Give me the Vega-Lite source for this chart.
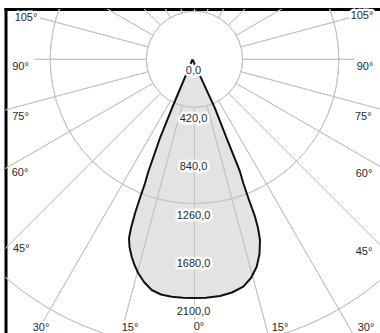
{
  "$schema": "https://vega.github.io/schema/vega-lite/v6.json",
  "width": 374.5,
  "height": 324,
  "autosize": {"type": "none"},
  "padding": {"left": 5.5, "top": 9, "right": 0, "bottom": 0},
  "background": "white",
  "view": {"stroke": null},
  "config": {
    "axis": {"domain": true, "domainColor": "#000000", "domainWidth": 3, "domainCap": "square", "ticks": false, "labels": false, "grid": false},
    "text": {"font": "Liberation Sans", "fontSize": 11, "color": "#2a2a2a"}
  },
  "datasets": {
    "curve": [
      {"i": 0, "x": -17.5, "y": 0},
      {"i": 1, "x": -185.1, "y": -399.0},
      {"i": 2, "x": -301.2, "y": -687.2},
      {"i": 3, "x": -403.4, "y": -981.5},
      {"i": 4, "x": -432.2, "y": -1082.7},
      {"i": 5, "x": -475.9, "y": -1211.1},
      {"i": 6, "x": -519.5, "y": -1344.7},
      {"i": 7, "x": -554.5, "y": -1473.1},
      {"i": 8, "x": -571.9, "y": -1563.0},
      {"i": 9, "x": -567.6, "y": -1638.9},
      {"i": 10, "x": -548.4, "y": -1723.7},
      {"i": 11, "x": -523.9, "y": -1796.1},
      {"i": 12, "x": -490.7, "y": -1868.6},
      {"i": 13, "x": -441.0, "y": -1944.6},
      {"i": 14, "x": -373.7, "y": -2014.4},
      {"i": 15, "x": -292.5, "y": -2053.7},
      {"i": 16, "x": -199.1, "y": -2072.9},
      {"i": 17, "x": -100.4, "y": -2082.5},
      {"i": 18, "x": 0, "y": -2084.3},
      {"i": 19, "x": 100.4, "y": -2082.5},
      {"i": 20, "x": 222.7, "y": -2066.8},
      {"i": 21, "x": 327.4, "y": -2036.3},
      {"i": 22, "x": 426.1, "y": -1985.6},
      {"i": 23, "x": 493.3, "y": -1909.6},
      {"i": 24, "x": 543.1, "y": -1811.0},
      {"i": 25, "x": 567.6, "y": -1700.1},
      {"i": 26, "x": 571.9, "y": -1577.8},
      {"i": 27, "x": 554.5, "y": -1473.1},
      {"i": 28, "x": 528.3, "y": -1374.4},
      {"i": 29, "x": 475.9, "y": -1228.6},
      {"i": 30, "x": 426.1, "y": -1082.7},
      {"i": 31, "x": 397.3, "y": -981.5},
      {"i": 32, "x": 281.2, "y": -689.8},
      {"i": 33, "x": 179.0, "y": -427.9},
      {"i": 34, "x": -17.5, "y": 0}
    ],
    "rings": [
      {"r": 420}, {"r": 840}, {"r": 1260}, {"r": 1680}, {"r": 2100}, {"r": 2520}, {"r": 2940}
    ],
    "spokes": [
      {"a": 0, "ro": 4000}, {"a": 15, "ro": 4000}, {"a": 30, "ro": 4000}, {"a": 45, "ro": 4000},
      {"a": 60, "ro": 4000}, {"a": 75, "ro": 4000}, {"a": 90, "ro": 1397}, {"a": 105, "ro": 1397},
      {"a": 120, "ro": 4000}, {"a": 135, "ro": 4000}, {"a": 150, "ro": 4000}, {"a": 165, "ro": 4000},
      {"a": 180, "ro": 4000},
      {"a": -15, "ro": 4000}, {"a": -30, "ro": 4000}, {"a": -45, "ro": 4000},
      {"a": -60, "ro": 4000}, {"a": -75, "ro": 4000}, {"a": -90, "ro": 1397}, {"a": -105, "ro": 1397},
      {"a": -120, "ro": 4000}, {"a": -135, "ro": 4000}, {"a": -150, "ro": 4000}, {"a": -165, "ro": 4000}
    ],
    "vlabels": [
      {"t": "0,0", "y": 0},
      {"t": "420,0", "y": -420},
      {"t": "840,0", "y": -840},
      {"t": "1260,0", "y": -1260},
      {"t": "1680,0", "y": -1680},
      {"t": "2100,0", "y": -2100}
    ],
    "alabels": [
      {"t": "105°", "x": -1471.3, "y": 358.0},
      {"t": "90°", "x": -1519.3, "y": -62.9},
      {"t": "75°", "x": -1519.3, "y": -501.2},
      {"t": "60°", "x": -1523.7, "y": -992.8},
      {"t": "45°", "x": -1512.3, "y": -1656.4},
      {"t": "30°", "x": -1340.3, "y": -2346.2},
      {"t": "15°", "x": -563.2, "y": -2346.2},
      {"t": "0°", "x": 39.3, "y": -2337.5},
      {"t": "15°", "x": 746.6, "y": -2346.2},
      {"t": "30°", "x": 1497.5, "y": -2346.2},
      {"t": "45°", "x": 1480.0, "y": -1682.6},
      {"t": "60°", "x": 1480.0, "y": -1001.5},
      {"t": "75°", "x": 1473.9, "y": -501.2},
      {"t": "90°", "x": 1488.8, "y": -64.6},
      {"t": "105°", "x": 1462.6, "y": 378.1}
    ]
  },
  "layer": [
    {
      "data": {"name": "curve"},
      "mark": {"type": "line", "fill": "#e3e3e3", "stroke": null, "clip": true},
      "encoding": {
        "x": {"field": "x", "type": "quantitative", "scale": {"domain": [-1650.3, 1619.7], "nice": false, "zero": false}, "axis": {"orient": "top", "title": null}},
        "y": {"field": "y", "type": "quantitative", "scale": {"domain": [-2389.9, 439.2], "nice": false, "zero": false}, "axis": {"orient": "left", "title": null}},
        "order": {"field": "i", "type": "quantitative"}
      }
    },
    {
      "data": {"name": "rings"},
      "mark": {"type": "arc", "theta": 0, "theta2": 6.283185307179586, "filled": false, "stroke": "#c4c4c4", "strokeWidth": 1, "clip": true},
      "encoding": {
        "x": {"datum": 0, "type": "quantitative", "axis": {"orient": "top", "title": null}},
        "y": {"datum": 0, "type": "quantitative", "axis": {"orient": "left", "title": null}},
        "radius": {"field": "r", "type": "quantitative", "scale": {"type": "linear", "domain": [0, 2100], "range": [0, 240.5], "zero": true, "nice": false}}
      }
    },
    {
      "data": {"name": "spokes"},
      "mark": {"type": "arc", "filled": false, "stroke": "#c4c4c4", "strokeWidth": 1, "clip": true},
      "encoding": {
        "x": {"datum": 0, "type": "quantitative", "axis": {"orient": "top", "title": null}},
        "y": {"datum": 0, "type": "quantitative", "axis": {"orient": "left", "title": null}},
        "theta": {"field": "a", "type": "quantitative", "stack": null, "scale": {"domain": [-180, 180], "range": [0, 6.283185307179586], "nice": false, "zero": false}},
        "theta2": {"field": "a"},
        "radius": {"field": "ro", "type": "quantitative"},
        "radius2": {"datum": 420}
      }
    },
    {
      "data": {"name": "curve"},
      "mark": {"type": "line", "stroke": "#111111", "strokeWidth": 2, "strokeJoin": "round", "clip": true},
      "encoding": {
        "x": {"field": "x", "type": "quantitative", "axis": {"orient": "top", "title": null}},
        "y": {"field": "y", "type": "quantitative", "axis": {"orient": "left", "title": null}},
        "order": {"field": "i", "type": "quantitative"}
      }
    },
    {
      "data": {"name": "vlabels"},
      "mark": {"type": "text", "dy": 12, "dx": -1, "baseline": "middle", "align": "center", "stroke": "white", "strokeWidth": 5, "strokeJoin": "round", "color": "white"},
      "encoding": {
        "x": {"datum": 0, "type": "quantitative", "axis": {"orient": "top", "title": null}},
        "y": {"field": "y", "type": "quantitative", "axis": {"orient": "left", "title": null}},
        "text": {"field": "t"}
      }
    },
    {
      "data": {"name": "vlabels"},
      "mark": {"type": "text", "dy": 12, "dx": -1, "baseline": "middle", "align": "center"},
      "encoding": {
        "x": {"datum": 0, "type": "quantitative", "axis": {"orient": "top", "title": null}},
        "y": {"field": "y", "type": "quantitative", "axis": {"orient": "left", "title": null}},
        "text": {"field": "t"}
      }
    },
    {
      "data": {"name": "alabels"},
      "mark": {"type": "text", "baseline": "middle", "align": "center", "stroke": "white", "strokeWidth": 5, "strokeJoin": "round", "color": "white"},
      "encoding": {
        "x": {"field": "x", "type": "quantitative", "axis": {"orient": "top", "title": null}},
        "y": {"field": "y", "type": "quantitative", "axis": {"orient": "left", "title": null}},
        "text": {"field": "t"}
      }
    },
    {
      "data": {"name": "alabels"},
      "mark": {"type": "text", "baseline": "middle", "align": "center"},
      "encoding": {
        "x": {"field": "x", "type": "quantitative", "axis": {"orient": "top", "title": null}},
        "y": {"field": "y", "type": "quantitative", "axis": {"orient": "left", "title": null}},
        "text": {"field": "t"}
      }
    }
  ]
}
